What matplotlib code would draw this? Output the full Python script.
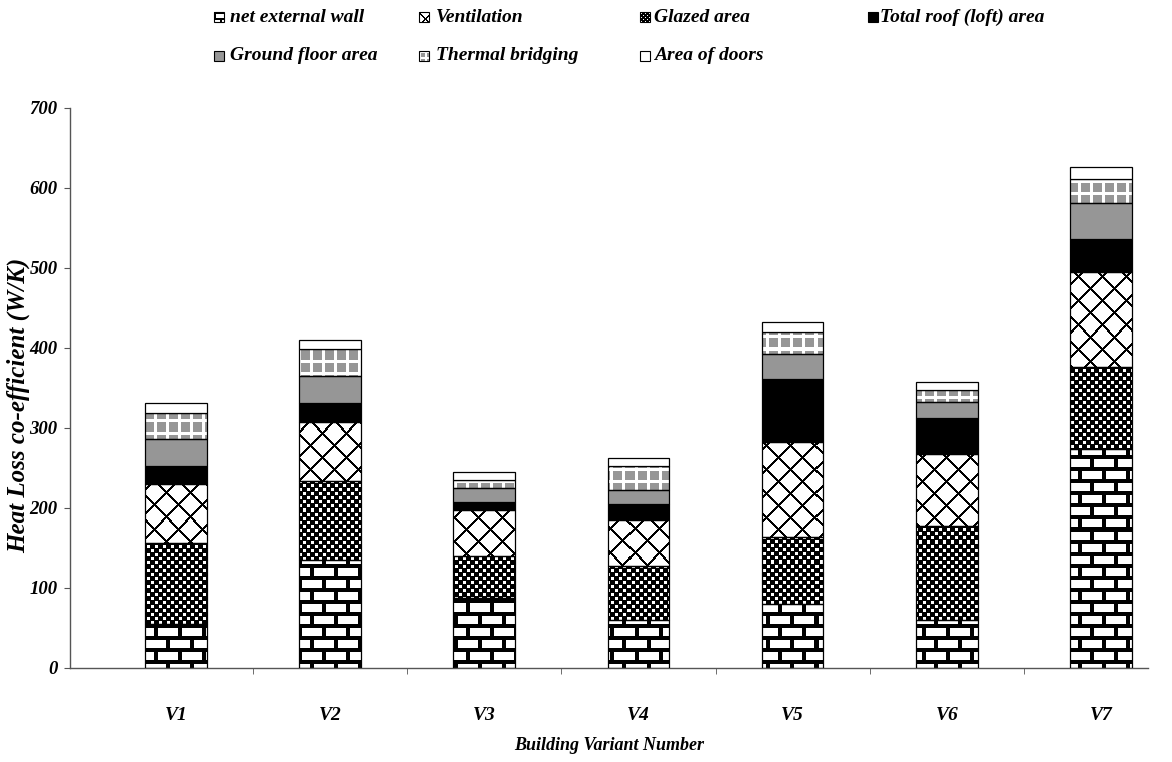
import numpy as np
import matplotlib
matplotlib.use('Agg')
import matplotlib.pyplot as plt
from matplotlib.patches import Rectangle

variants = ['V1', 'V2', 'V3', 'V4', 'V5', 'V6', 'V7']

# heat loss components (W/K), listed bottom to top of each stack
net_external_wall = [55, 135, 88, 60, 80, 60, 274]
glazed_area = [101, 99, 52, 67, 84, 118, 102]
ventilation = [74, 74, 57, 58, 118, 89, 119]
roof_area = [22, 23, 11, 20, 79, 46, 41]
ground_floor_area = [34, 34, 17, 18, 31, 20, 45]
thermal_bridging = [33, 34, 10, 30, 28, 14, 30]
area_of_doors = [12, 11, 10, 10, 12, 10, 15]

GREY = 0.412  # ink level of the 40% grey fill


# fill patterns: ink level (1 = black) as a function of pixel row / column
def brick(r, c):
    rr = r % 24
    cc = c % 24
    ink = (rr % 12) < 4
    ink |= (rr >= 4) & (rr < 12) & (cc < 4)
    ink |= (rr >= 16) & (cc >= 12) & (cc < 16)
    return ink.astype(float)


def trellis(r, c):
    return ((((r - c) % 24) < 3) | (((r + c) % 24) < 3)).astype(float)


def dense(r, c):
    rr, cc = r % 8, c % 8
    hole = ((rr >= 1) & (rr <= 3) & (cc >= 1) & (cc <= 3))
    hole |= ((rr >= 5) & (cc >= 5))
    return (~hole).astype(float)


def dashed(r, c):
    return np.where(((r % 12) < 3) | ((c % 12) < 3), 0.0, GREY)


def flat(level):
    def f(r, c):
        return np.full(np.broadcast(r, c).shape, level)
    f.level = level
    return f


# (label, values, fill)
series = [
    ('net external wall', net_external_wall, brick),
    ('Glazed area', glazed_area, dense),
    ('Ventilation', ventilation, trellis),
    ('Total roof (loft) area', roof_area, flat(1.0)),
    ('Ground floor area', ground_floor_area, flat(GREY)),
    ('Thermal bridging', thermal_bridging, dashed),
    ('Area of doors', area_of_doors, flat(0.0)),
]
legend_order = ['net external wall', 'Ventilation', 'Glazed area', 'Total roof (loft) area',
                'Ground floor area', 'Thermal bridging', 'Area of doors']

plt.rcParams['font.family'] = ['Liberation Serif', 'DejaVu Serif']
font = dict(weight='bold', style='italic')

FW, FH = 1172, 762
AX_L, AX_B, AX_W, AX_H = 70, 94, 1078, 560

fig = plt.figure(figsize=(FW / 100, FH / 100), dpi=100)
ax = fig.add_axes([AX_L / FW, AX_B / FH, AX_W / FW, AX_H / FH])

x = np.arange(len(variants))
xlim = (-0.687, 6.305)
ylim = (0, 700)

rows, cols = np.mgrid[0:AX_H, 0:AX_W]

bottom = np.zeros(len(variants))
for label, vals, fill in series:
    vals = np.asarray(vals, dtype=float)
    solid = hasattr(fill, 'level')
    face = str(1 - fill.level) if solid else 'none'
    bars = ax.bar(x, vals, bottom=bottom, width=0.40, facecolor=face,
                  edgecolor='black', linewidth=0.9, zorder=3)
    if not solid:
        img = 1 - fill(rows, cols)
        for patch in bars.patches:
            im = ax.imshow(img, cmap='gray', vmin=0, vmax=1, interpolation='nearest',
                           extent=(xlim[0], xlim[1], ylim[0], ylim[1]), aspect='auto', zorder=2)
            im.set_clip_path(patch)
    bottom += vals

ax.set_xlim(*xlim)
ax.set_ylim(*ylim)

for side in ['top', 'right']:
    ax.spines[side].set_visible(False)
for side in ['left', 'bottom']:
    ax.spines[side].set_color('#555555')
    ax.spines[side].set_linewidth(1.0)

ax.set_yticks(np.arange(0, 701, 100))
ax.tick_params(axis='y', direction='out', length=4, color='#555555', pad=5, labelsize=13.5)
for lab in ax.get_yticklabels():
    lab.set_fontweight('bold')
    lab.set_fontstyle('italic')

ax.set_xticks(x)
ax.set_xticklabels(variants, **font)
ax.tick_params(axis='x', which='major', length=0, pad=28, labelsize=14)
ax.set_xticks(x[:-1] + 0.5, minor=True)
ax.tick_params(axis='x', which='minor', direction='out', length=4, color='#555555')

fig.text(18 / FW, 1 - 405 / FH, 'Heat Loss co-efficient (W/K)', rotation=90,
         ha='center', va='center', fontsize=18, **font)
fig.text(609 / FW, 1 - 745 / FH, 'Building Variant Number', ha='center', va='center',
         fontsize=13, **font)

# legend entries laid out in two rows across the top
by_label = {s[0]: s for s in series}
icon_x = [214, 419, 640, 868]
text_x = [230, 436, 654, 880]
row_y = [17, 56]
ir, ic = np.mgrid[0:10, 0:10]
for k, name in enumerate(legend_order):
    row, col = divmod(k, 4)
    fill = by_label[name][2]
    icon = 1 - fill(ir * 2, ic * 2)
    yo = FH - row_y[row] - 5
    fig.figimage(icon, xo=icon_x[col], yo=yo, cmap='gray', vmin=0, vmax=1, origin='upper', zorder=3)
    fig.add_artist(Rectangle((icon_x[col] / FW, yo / FH), 10 / FW, 10 / FH,
                             transform=fig.transFigure, facecolor='none',
                             edgecolor='black', linewidth=0.8, zorder=4))
    fig.text(text_x[col] / FW, 1 - row_y[row] / FH, name, ha='left', va='center',
             fontsize=14, **font)

fig.savefig('out.png', dpi=100, facecolor='white')
